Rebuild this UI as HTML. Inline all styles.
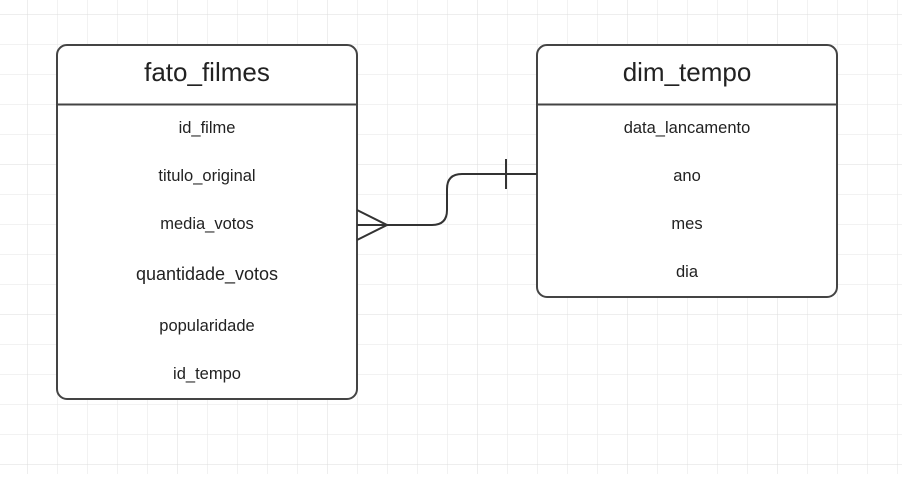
<!DOCTYPE html>
<html><head><style>
html,body{margin:0;padding:0;background:#fff;}
svg text{font-family:"Liberation Sans",Arial,sans-serif;fill:#222;}
</style></head><body>
<svg width="902" height="474" viewBox="0 0 902 474" xmlns="http://www.w3.org/2000/svg">
<defs>
<pattern id="g" x="27" y="14" width="30" height="30" patternUnits="userSpaceOnUse">
<path d="M0 0H30M0 0V30" stroke="#e6e6e6" stroke-width="1" fill="none"/>
</pattern>
<pattern id="G" x="27" y="14" width="150" height="150" patternUnits="userSpaceOnUse">
<path d="M0 0H150M0 0V150" stroke="#dcdcdc" stroke-width="1" fill="none"/>
</pattern>
</defs>
<rect width="902" height="474" fill="url(#g)"/>
<rect width="902" height="474" fill="url(#G)"/>
<rect x="57" y="45" width="300" height="354" rx="10" fill="#fff" stroke="#444" stroke-width="2"/>
<line x1="57" y1="104.5" x2="357" y2="104.5" stroke="#444" stroke-width="2"/>
<rect x="537" y="45" width="300" height="252" rx="10" fill="#fff" stroke="#444" stroke-width="2"/>
<line x1="537" y1="104.5" x2="837" y2="104.5" stroke="#444" stroke-width="2"/>
<g text-anchor="middle">
<text x="207" y="81" font-size="26">fato_filmes</text>
<text x="207" y="133" font-size="16.5">id_filme</text>
<text x="207" y="181" font-size="16.5">titulo_original</text>
<text x="207" y="229" font-size="16.5">media_votos</text>
<text x="207" y="280" font-size="18">quantidade_votos</text>
<text x="207" y="331" font-size="16.5">popularidade</text>
<text x="207" y="379" font-size="16.5">id_tempo</text>
<text x="687" y="81" font-size="26">dim_tempo</text>
<text x="687" y="133" font-size="16.5">data_lancamento</text>
<text x="687" y="181" font-size="16.5">ano</text>
<text x="687" y="229" font-size="16.5">mes</text>
<text x="687" y="277" font-size="16.5">dia</text>
</g>
<g stroke="#333" stroke-width="2" fill="none">
<path d="M357 225H432Q447 225 447 210V189Q447 174 462 174H537"/>
<path d="M357 210L387 225L357 240"/>
<path d="M506 159V189"/>
</g>
</svg>
</body></html>
